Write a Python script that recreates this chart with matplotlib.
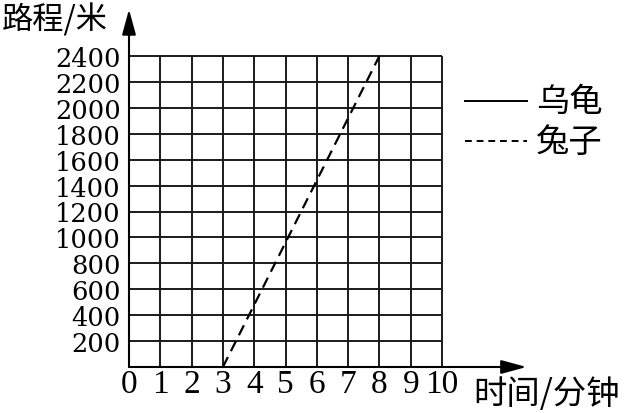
import matplotlib.pyplot as plt
import numpy as np

# Axis ticks
x_ticks = list(range(0, 11))
y_ticks = list(range(200, 2600, 200))
# Rabbit (dashed) line: start and end points
rabbit_time = [3, 8]
rabbit_dist = [0, 2400]
legend_labels = ['乌龟', '兔子']

cjk = ['Noto Sans CJK SC', 'DejaVu Sans']

fig = plt.figure(figsize=(6.29, 4.14), dpi=100)
W, H = 629, 414
x0, x1, yb, yt = 129, 442, 368, 57
ax = fig.add_axes([x0 / W, (H - yb) / H, (x1 - x0) / W, (yb - yt) / H])
ax.set_xlim(0, 10)
ax.set_ylim(0, 2400)
for s in ax.spines.values():
    s.set_visible(False)

# grid
ax.vlines(x_ticks[1:], 0, 2400, color='#1a1a1a', lw=1.4, clip_on=False)
ax.hlines(y_ticks, 0, 10, color='#1a1a1a', lw=1.4, clip_on=False)

# axes with arrows
ax.annotate('', xy=(12.7, 0), xytext=(0, 0), annotation_clip=False,
            arrowprops=dict(arrowstyle='-|>,head_length=1.1,head_width=0.3',
                            color='black', lw=1.5, mutation_scale=14, shrinkA=0, shrinkB=0))
ax.annotate('', xy=(0, 2760), xytext=(0, 0), annotation_clip=False,
            arrowprops=dict(arrowstyle='-|>,head_length=1.1,head_width=0.3',
                            color='black', lw=1.5, mutation_scale=14, shrinkA=0, shrinkB=0))

# rabbit line
ax.plot(rabbit_time, rabbit_dist, color='black', lw=1.6, ls=(0, (5, 3)), clip_on=False)

ax.set_xticks(x_ticks)
ax.set_xticklabels([str(v) for v in x_ticks], fontfamily='Liberation Serif', fontsize=24)
ax.set_yticks(y_ticks)
ax.set_yticklabels([str(v) for v in y_ticks], fontfamily='DejaVu Serif', fontsize=18.5)
ax.tick_params(axis='x', length=0, pad=1)
ax.tick_params(axis='y', length=0, pad=6)

# axis titles
fig.text(2 / W, 1 - 20 / H, '路程/米', family=cjk, fontsize=22.5, va='center', ha='left')
fig.text(473 / W, 1 - 395 / H, '时间/分钟', family=cjk, fontsize=24, va='center', ha='left')

# legend
fig.add_artist(plt.Line2D([465 / W, 527 / W], [1 - 102 / H, 1 - 102 / H], color='black', lw=1.4))
fig.add_artist(plt.Line2D([465 / W, 527 / W], [1 - 142 / H, 1 - 142 / H], color='black', lw=1.4,
                          ls=(0, (3.5, 2.5))))
fig.text(536 / W, 1 - 102 / H, legend_labels[0], family=cjk, fontsize=24, va='center', ha='left')
fig.text(536 / W, 1 - 142 / H, legend_labels[1], family=cjk, fontsize=24, va='center', ha='left')

fig.savefig('out.png', dpi=100)
